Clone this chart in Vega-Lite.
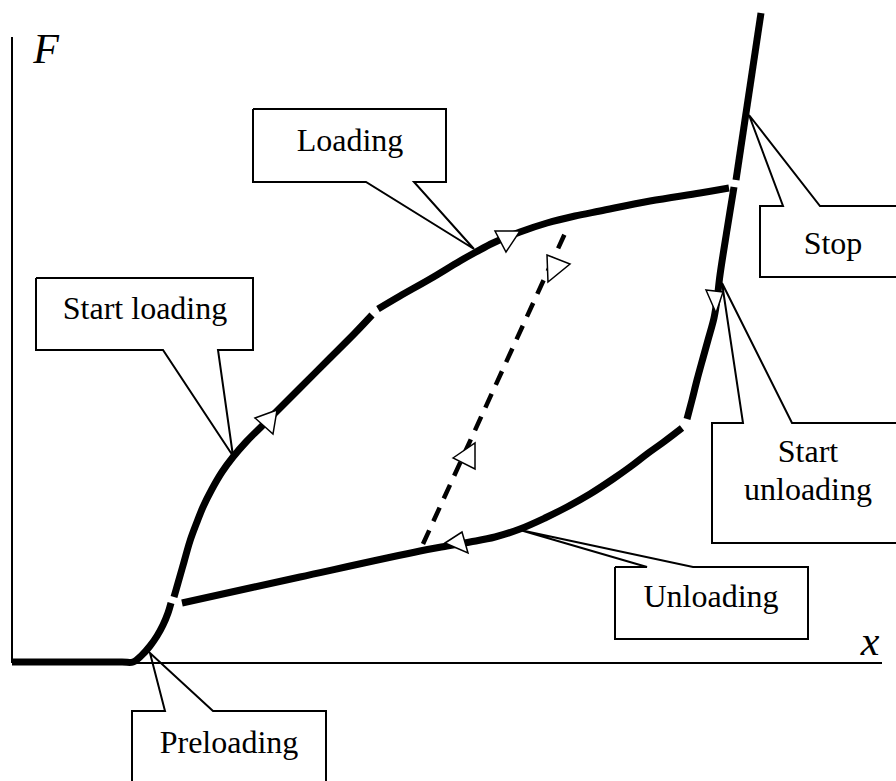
{
  "$schema": "https://vega.github.io/schema/vega-lite/v6.json",
  "width": 896,
  "height": 781,
  "autosize": {"type": "fit", "contains": "padding"},
  "padding": 0,
  "background": "white",
  "config": {"view": {"stroke": null}, "font": "Liberation Serif", "text": {"font": "Liberation Serif"}},
  "datasets": {
    "axes": [
      {"ax": "F", "i": 0, "x": 0, "F": 0},
      {"ax": "F", "i": 1, "x": 0, "F": 626},
      {"ax": "x", "i": 0, "x": 0, "F": 0},
      {"ax": "x", "i": 1, "x": 870, "F": 0}
    ],
    "callouts": [
      {"c": "Loading", "i": 0, "x": 241, "F": 554},
      {"c": "Loading", "i": 1, "x": 434, "F": 554},
      {"c": "Loading", "i": 2, "x": 434, "F": 481},
      {"c": "Loading", "i": 3, "x": 402, "F": 481},
      {"c": "Loading", "i": 4, "x": 462, "F": 414},
      {"c": "Loading", "i": 5, "x": 354, "F": 481},
      {"c": "Loading", "i": 6, "x": 241, "F": 481},
      {"c": "Loading", "i": 7, "x": 241, "F": 554},
      {"c": "Start loading", "i": 0, "x": 24, "F": 385},
      {"c": "Start loading", "i": 1, "x": 241, "F": 385},
      {"c": "Start loading", "i": 2, "x": 241, "F": 313},
      {"c": "Start loading", "i": 3, "x": 206, "F": 313},
      {"c": "Start loading", "i": 4, "x": 221, "F": 207},
      {"c": "Start loading", "i": 5, "x": 151, "F": 313},
      {"c": "Start loading", "i": 6, "x": 24, "F": 313},
      {"c": "Start loading", "i": 7, "x": 24, "F": 385},
      {"c": "Stop", "i": 0, "x": 898, "F": 457},
      {"c": "Stop", "i": 1, "x": 808, "F": 457},
      {"c": "Stop", "i": 2, "x": 737, "F": 548},
      {"c": "Stop", "i": 3, "x": 771, "F": 457},
      {"c": "Stop", "i": 4, "x": 748, "F": 457},
      {"c": "Stop", "i": 5, "x": 748, "F": 386},
      {"c": "Stop", "i": 6, "x": 898, "F": 386},
      {"c": "Start unloading", "i": 0, "x": 898, "F": 240},
      {"c": "Start unloading", "i": 1, "x": 780, "F": 240},
      {"c": "Start unloading", "i": 2, "x": 710, "F": 380},
      {"c": "Start unloading", "i": 3, "x": 731, "F": 240},
      {"c": "Start unloading", "i": 4, "x": 700, "F": 240},
      {"c": "Start unloading", "i": 5, "x": 700, "F": 120},
      {"c": "Start unloading", "i": 6, "x": 898, "F": 120},
      {"c": "Unloading", "i": 0, "x": 603, "F": 96},
      {"c": "Unloading", "i": 1, "x": 635, "F": 96},
      {"c": "Unloading", "i": 2, "x": 508, "F": 133},
      {"c": "Unloading", "i": 3, "x": 681, "F": 96},
      {"c": "Unloading", "i": 4, "x": 796, "F": 96},
      {"c": "Unloading", "i": 5, "x": 796, "F": 24},
      {"c": "Unloading", "i": 6, "x": 603, "F": 24},
      {"c": "Unloading", "i": 7, "x": 603, "F": 96},
      {"c": "Preloading", "i": 0, "x": 120, "F": -137},
      {"c": "Preloading", "i": 1, "x": 120, "F": -48},
      {"c": "Preloading", "i": 2, "x": 153, "F": -48},
      {"c": "Preloading", "i": 3, "x": 138, "F": 10},
      {"c": "Preloading", "i": 4, "x": 201, "F": -48},
      {"c": "Preloading", "i": 5, "x": 314, "F": -48},
      {"c": "Preloading", "i": 6, "x": 314, "F": -137}
    ],
    "curves": [
      {"seg": "pre", "i": 0, "x": 0, "F": 1},
      {"seg": "pre", "i": 1, "x": 110, "F": 1},
      {"seg": "pre", "i": 2, "x": 121, "F": 1},
      {"seg": "pre", "i": 3, "x": 130, "F": 8},
      {"seg": "pre", "i": 4, "x": 138, "F": 17},
      {"seg": "pre", "i": 5, "x": 145, "F": 27},
      {"seg": "pre", "i": 6, "x": 151, "F": 38},
      {"seg": "pre", "i": 7, "x": 156, "F": 50},
      {"seg": "pre", "i": 8, "x": 159, "F": 60},
      {"seg": "sl", "i": 0, "x": 162, "F": 66},
      {"seg": "sl", "i": 1, "x": 166, "F": 80},
      {"seg": "sl", "i": 2, "x": 172, "F": 101},
      {"seg": "sl", "i": 3, "x": 178, "F": 122},
      {"seg": "sl", "i": 4, "x": 185, "F": 141},
      {"seg": "sl", "i": 5, "x": 191, "F": 156},
      {"seg": "sl", "i": 6, "x": 200, "F": 174},
      {"seg": "sl", "i": 7, "x": 210, "F": 191},
      {"seg": "sl", "i": 8, "x": 221, "F": 206},
      {"seg": "sl", "i": 9, "x": 234, "F": 221},
      {"seg": "sl", "i": 10, "x": 248, "F": 235},
      {"seg": "sl", "i": 11, "x": 265, "F": 252},
      {"seg": "sl", "i": 12, "x": 288, "F": 275},
      {"seg": "sl", "i": 13, "x": 318, "F": 305},
      {"seg": "sl", "i": 14, "x": 343, "F": 330},
      {"seg": "sl", "i": 15, "x": 360, "F": 348},
      {"seg": "ld", "i": 0, "x": 366, "F": 354},
      {"seg": "ld", "i": 1, "x": 388, "F": 367},
      {"seg": "ld", "i": 2, "x": 418, "F": 384},
      {"seg": "ld", "i": 3, "x": 448, "F": 402},
      {"seg": "ld", "i": 4, "x": 464, "F": 411},
      {"seg": "ld", "i": 5, "x": 481, "F": 420},
      {"seg": "ld", "i": 6, "x": 508, "F": 431},
      {"seg": "ld", "i": 7, "x": 535, "F": 440},
      {"seg": "ld", "i": 8, "x": 563, "F": 447},
      {"seg": "ld", "i": 9, "x": 588, "F": 452},
      {"seg": "ld", "i": 10, "x": 638, "F": 462},
      {"seg": "ld", "i": 11, "x": 688, "F": 470},
      {"seg": "ld", "i": 12, "x": 717, "F": 475},
      {"seg": "stop", "i": 0, "x": 749, "F": 650},
      {"seg": "stop", "i": 1, "x": 724, "F": 483},
      {"seg": "su", "i": 0, "x": 722, "F": 476},
      {"seg": "su", "i": 1, "x": 715, "F": 433},
      {"seg": "su", "i": 2, "x": 708, "F": 388},
      {"seg": "su", "i": 3, "x": 705, "F": 363},
      {"seg": "su", "i": 4, "x": 702, "F": 345},
      {"seg": "su", "i": 5, "x": 696, "F": 323},
      {"seg": "su", "i": 6, "x": 691, "F": 305},
      {"seg": "su", "i": 7, "x": 685, "F": 283},
      {"seg": "su", "i": 8, "x": 680, "F": 263},
      {"seg": "su", "i": 9, "x": 675, "F": 244},
      {"seg": "ul", "i": 0, "x": 670, "F": 235},
      {"seg": "ul", "i": 1, "x": 653, "F": 222},
      {"seg": "ul", "i": 2, "x": 635, "F": 209},
      {"seg": "ul", "i": 3, "x": 618, "F": 196},
      {"seg": "ul", "i": 4, "x": 601, "F": 184},
      {"seg": "ul", "i": 5, "x": 578, "F": 169},
      {"seg": "ul", "i": 6, "x": 555, "F": 156},
      {"seg": "ul", "i": 7, "x": 533, "F": 145},
      {"seg": "ul", "i": 8, "x": 508, "F": 134},
      {"seg": "ul", "i": 9, "x": 483, "F": 126},
      {"seg": "ul", "i": 10, "x": 458, "F": 121},
      {"seg": "ul", "i": 11, "x": 435, "F": 117},
      {"seg": "ul", "i": 12, "x": 408, "F": 112},
      {"seg": "ul", "i": 13, "x": 288, "F": 86},
      {"seg": "ul", "i": 14, "x": 170, "F": 60}
    ],
    "dashed": [
      {"seg": "reload", "i": 0, "x": 411, "F": 119},
      {"seg": "reload", "i": 1, "x": 555, "F": 434}
    ],
    "arrows": [
      {"a": "a1", "x": 495, "F": 425},
      {"a": "a2", "x": 256, "F": 242},
      {"a": "a3", "x": 446, "F": 120},
      {"a": "a4", "x": 703, "F": 365},
      {"a": "a5", "x": 543, "F": 396},
      {"a": "a6", "x": 456, "F": 206}
    ],
    "labels": [
      {"t": "Loading", "x": 338, "F": 512},
      {"t": "Start loading", "x": 133, "F": 344},
      {"t": "Stop", "x": 821, "F": 409},
      {"t": "Start", "x": 796, "F": 201},
      {"t": "unloading", "x": 796, "F": 163},
      {"t": "Unloading", "x": 699, "F": 56},
      {"t": "Preloading", "x": 217, "F": -90}
    ],
    "axislabels": [
      {"t": "F", "x": 34, "F": 600},
      {"t": "x", "x": 858, "F": 8}
    ]
  },
  "layer": [
    {
      "data": {"name": "axes"},
      "mark": {"type": "line", "stroke": "black", "strokeWidth": 2},
      "encoding": {
        "x": {"field": "x", "type": "quantitative", "scale": {"domain": [-12, 884], "nice": false, "zero": false}, "axis": null},
        "y": {"field": "F", "type": "quantitative", "scale": {"domain": [-118, 663], "nice": false, "zero": false}, "axis": null},
        "detail": {"field": "ax"},
        "order": {"field": "i"}
      }
    },
    {
      "data": {"name": "callouts"},
      "mark": {"type": "line", "stroke": "black", "strokeWidth": 2, "clip": true, "strokeJoin": "miter"},
      "encoding": {
        "x": {"field": "x", "type": "quantitative"},
        "y": {"field": "F", "type": "quantitative"},
        "detail": {"field": "c"},
        "order": {"field": "i"}
      }
    },
    {
      "data": {"name": "curves"},
      "mark": {"type": "line", "stroke": "black", "strokeWidth": 7, "interpolate": "catmull-rom", "strokeJoin": "round"},
      "encoding": {
        "x": {"field": "x", "type": "quantitative"},
        "y": {"field": "F", "type": "quantitative"},
        "detail": {"field": "seg"},
        "order": {"field": "i"}
      }
    },
    {
      "data": {"name": "dashed"},
      "mark": {"type": "line", "stroke": "black", "strokeWidth": 4.5, "strokeDash": [15, 10]},
      "encoding": {
        "x": {"field": "x", "type": "quantitative"},
        "y": {"field": "F", "type": "quantitative"},
        "detail": {"field": "seg"},
        "order": {"field": "i"}
      }
    },
    {
      "data": {"name": "arrows"},
      "mark": {"type": "point", "filled": true, "fill": "white", "stroke": "black", "strokeWidth": 1.5, "size": 900, "opacity": 1},
      "encoding": {
        "x": {"field": "x", "type": "quantitative"},
        "y": {"field": "F", "type": "quantitative"},
        "shape": {
          "field": "a",
          "type": "nominal",
          "legend": null,
          "scale": {
            "domain": ["a1", "a2", "a3", "a4", "a5", "a6"],
            "range": [
              "M-0.8,-0.467L0.867,-0.467L-0.067,0.933Z",
              "M-0.867,-0.2L0.6,-0.733L0.333,0.867Z",
              "M-0.867,0L0.267,-0.733L0.667,0.667Z",
              "M-0.6,-0.533L0.533,-0.4L0.067,1Z",
              "M-0.533,-0.8L1,-0.2L-0.467,1Z",
              "M-1,0.067L0.467,-0.933L0.467,0.8Z"
            ]
          }
        }
      }
    },
    {
      "data": {"name": "labels"},
      "mark": {"type": "text", "font": "Liberation Serif", "fontSize": 32, "align": "center", "baseline": "alphabetic", "color": "black"},
      "encoding": {
        "x": {"field": "x", "type": "quantitative"},
        "y": {"field": "F", "type": "quantitative"},
        "text": {"field": "t"}
      }
    },
    {
      "data": {"name": "axislabels"},
      "mark": {"type": "text", "font": "Liberation Serif", "fontSize": 42, "fontStyle": "italic", "align": "center", "baseline": "alphabetic", "color": "black"},
      "encoding": {
        "x": {"field": "x", "type": "quantitative"},
        "y": {"field": "F", "type": "quantitative"},
        "text": {"field": "t"}
      }
    }
  ]
}
